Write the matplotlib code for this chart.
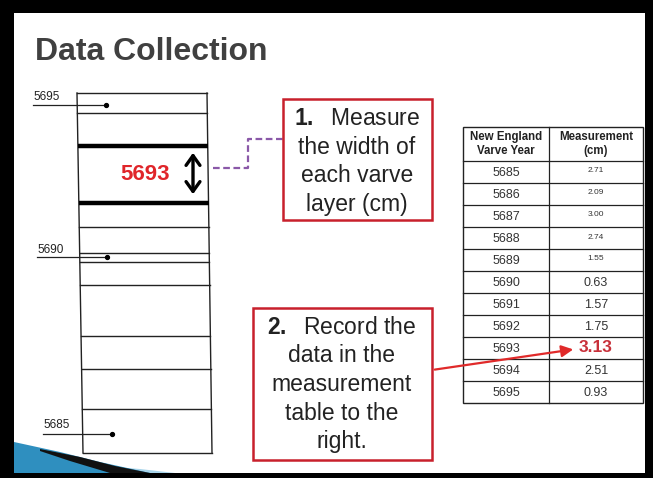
import matplotlib
matplotlib.use("Agg")
import matplotlib.pyplot as plt
from matplotlib.patches import Rectangle, Polygon, FancyArrowPatch

plt.rcParams["mathtext.fontset"] = "custom"
plt.rcParams["mathtext.rm"] = "Liberation Sans"
plt.rcParams["mathtext.bf"] = "Liberation Sans:bold"

# ---- data ----
years = ["5685", "5686", "5687", "5688", "5689", "5690",
         "5691", "5692", "5693", "5694", "5695"]
measurements = ["2.71", "2.09", "3.00", "2.74", "1.55", "0.63",
                "1.57", "1.75", "3.13", "2.51", "0.93"]
header = ["New England\nVarve Year", "Measurement\n(cm)"]
title = "Data Collection"
step1 = ["the width of", "each varve", "layer (cm)"]
step2 = ["data in the", "measurement", "table to the", "right."]
core_labels = ["5695", "5690", "5685"]
highlight = "5693"

W, H = 653, 478
fig = plt.figure(figsize=(W / 100, H / 100), dpi=100)
ax = fig.add_axes([0, 0, 1, 1])
ax.set_xlim(0, W)
ax.set_ylim(H, 0)
ax.axis("off")
fig.patch.set_facecolor("black")

# slide background
ax.add_patch(Rectangle((14, 13), 631, 460, facecolor="white", edgecolor="none", zorder=0))

# title
ax.text(35, 52, title, fontsize=23, fontweight="bold", color="#404040",
        family="Liberation Sans", va="center", ha="left")

# ---- core column ----
def xl(y):
    return 77 + (y - 93) * 6 / 360

def xr(y):
    return 207 + (y - 93) * 5 / 360

ytop, ybot = 93, 453
ax.plot([xl(ytop), xl(ybot)], [ytop, ybot], color="#222", lw=1.0)
ax.plot([xr(ytop), xr(ybot)], [ytop, ybot], color="#222", lw=1.0)
thin = [93, 113, 227, 253, 262, 285, 336, 369, 409, 453]
thick = [146, 203]
for y in thin:
    ax.plot([xl(y), xr(y)], [y, y], color="#222", lw=1.0)
for y in thick:
    ax.plot([xl(y), xr(y)], [y, y], color="black", lw=3.2, solid_capstyle="butt")

# pointer labels
ptrs = [(33, 97, 105, 106), (37, 250, 257, 107), (43, 425, 434, 112)]
for lab, (x0, ty, ly, dx) in zip(core_labels, ptrs):
    ax.text(x0, ty, lab, fontsize=8.5, color="#222", family="Liberation Sans",
            va="center", ha="left")
    ax.plot([x0, dx], [ly, ly], color="#222", lw=0.9)
    ax.plot([dx], [ly], "o", color="black", ms=2.8)

ax.text(145, 174, highlight, fontsize=16, fontweight="bold", color="#e0252a",
        family="Liberation Sans", va="center", ha="center")
ax.add_patch(FancyArrowPatch((193, 150), (193, 197), arrowstyle="<->,head_length=7,head_width=5",
                             color="black", lw=2.4, mutation_scale=1))

# purple dashed connector
ax.plot([213, 248, 248, 283], [168, 168, 139, 139], color="#8a58a8", lw=1.6,
        ls=(0, (3, 1.6)))

# ---- step boxes ----
red = "#c8202c"
fs = 16.5
ax.add_patch(Rectangle((283, 99), 149, 121, facecolor="white", edgecolor=red, lw=1.8, zorder=3))
ax.text(357, 118, r"$\bf{1.}$  Measure", fontsize=fs, color="#222", family="Liberation Sans",
        ha="center", va="center", zorder=4)
for i, t in enumerate(step1):
    ax.text(357, 147 + 29 * i, t, fontsize=fs, color="#222", family="Liberation Sans",
            ha="center", va="center", zorder=4)

ax.add_patch(Rectangle((253, 308), 179, 152, facecolor="white", edgecolor=red, lw=1.8, zorder=3))
ax.text(342, 328, r"$\bf{2.}$  Record the", fontsize=fs, color="#222", family="Liberation Sans",
        ha="center", va="center", zorder=4)
for i, t in enumerate(step2):
    ax.text(342, 356 + 28.5 * i, t, fontsize=fs, color="#222", family="Liberation Sans",
            ha="center", va="center", zorder=4)

# ---- table ----
tx0, tx1, tmid = 463, 643, 549
ty0, th_bot, rh = 127, 161, 22
n = len(years)
ybottom = th_bot + rh * n
ax.add_patch(Rectangle((tx0, ty0), tx1 - tx0, ybottom - ty0, facecolor="white",
                       edgecolor="#222", lw=1.0, zorder=2))
ax.plot([tmid, tmid], [ty0, ybottom], color="#222", lw=0.9, zorder=3)
for i in range(n):
    y = th_bot + rh * i
    ax.plot([tx0, tx1], [y, y], color="#222", lw=0.9, zorder=3)
ax.text((tx0 + tmid) / 2, (ty0 + th_bot) / 2, header[0], fontsize=8.3, fontweight="bold",
        color="#222", family="Liberation Sans", ha="center", va="center", linespacing=1.2, zorder=4)
ax.text((tmid + tx1) / 2, (ty0 + th_bot) / 2, header[1], fontsize=8.3, fontweight="bold",
        color="#222", family="Liberation Sans", ha="center", va="center", linespacing=1.2, zorder=4)
for i, (yr, m) in enumerate(zip(years, measurements)):
    yc = th_bot + rh * (i + 0.5)
    ax.text((tx0 + tmid) / 2, yc + 1, yr, fontsize=9, color="#333",
            family="Liberation Sans", ha="center", va="center", zorder=4)
    if yr == highlight:
        ax.text(596, yc - 1, m, fontsize=12.5, fontweight="bold", color="#c8303a",
                family="Liberation Sans", ha="center", va="center", zorder=4)
    elif i < 5:
        ax.text(596, yc - 1, m, fontsize=6, color="#333",
                family="Liberation Sans", ha="center", va="center", zorder=4)
    else:
        ax.text(596, yc + 1, m, fontsize=9, color="#333",
                family="Liberation Sans", ha="center", va="center", zorder=4)

# red arrow from box 2 to 3.13
ax.add_patch(FancyArrowPatch((432, 370), (576, 349), arrowstyle="-|>,head_length=7,head_width=3.5",
                             color="#e02a2a", lw=1.6, mutation_scale=1, zorder=5))

# ---- decorative swoosh ----
ax.add_patch(Polygon([[14, 442], [60, 452], [100, 462], [150, 473], [14, 473]],
                     closed=True, facecolor="#2f8fbf", edgecolor="none", zorder=1))
ax.add_patch(Polygon([[40, 449], [80, 457], [115, 466], [150, 473], [110, 473], [70, 461], [40, 451]],
                     closed=True, facecolor="#111", edgecolor="none", zorder=1))
ax.add_patch(Polygon([[115, 467], [140, 469], [175, 473], [120, 473]],
                     closed=True, facecolor="#a8d4ea", edgecolor="none", zorder=0.5))
ax.add_patch(Rectangle((0, 473), W, 5, facecolor="black", edgecolor="none", zorder=6))

fig.savefig("out.png", dpi=100, facecolor=fig.get_facecolor())
